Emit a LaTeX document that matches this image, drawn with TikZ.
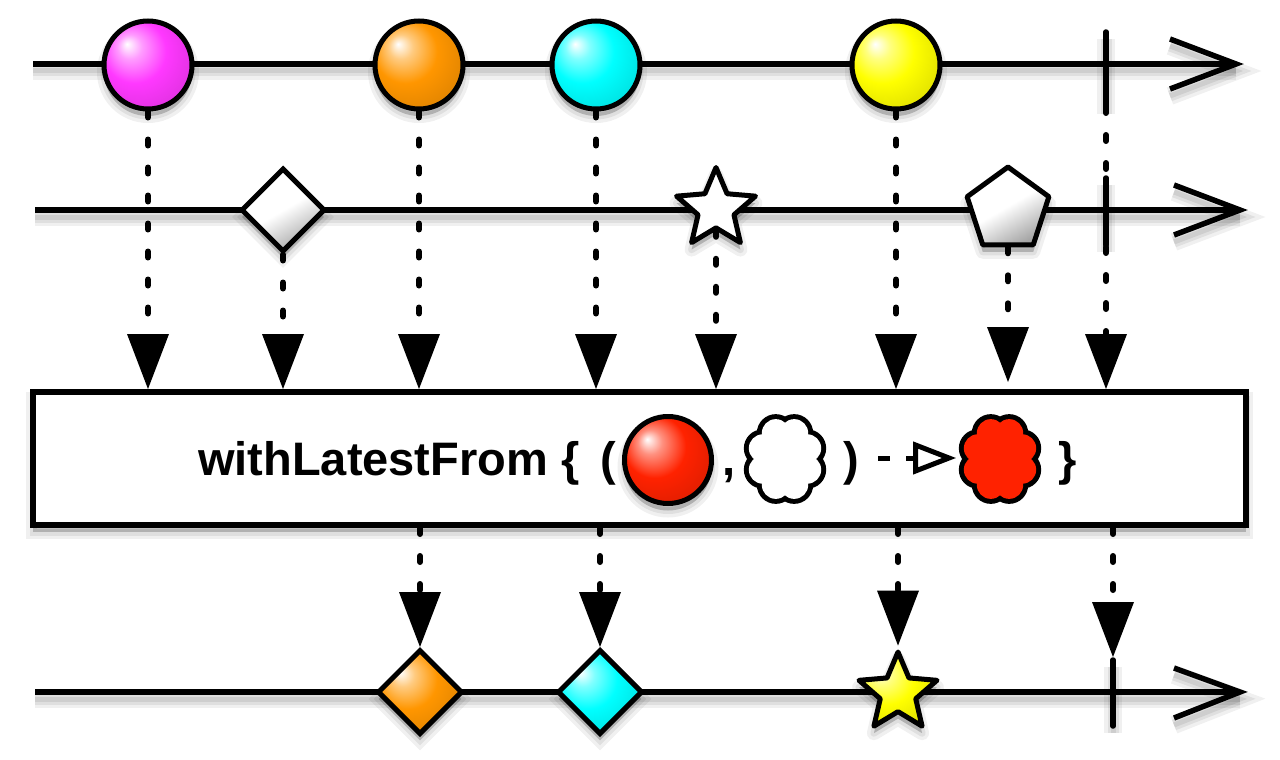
\documentclass[tikz,border=0pt]{standalone}
\usepackage{fontspec}
\setmainfont{Liberation Sans}
\usetikzlibrary{arrows.meta,shapes.geometric}
\definecolor{cmag}{RGB}{255,56,255}
\definecolor{corange}{RGB}{255,150,0}
\definecolor{ccyan}{RGB}{0,255,255}
\definecolor{cyellow}{RGB}{255,255,0}
\definecolor{cred}{RGB}{255,34,0}
\newcommand\mkballshading[1]{%
  \pgfdeclareradialshading{b#1}{\pgfpoint{-12bp}{12bp}}{%
    color(0bp)=(white); color(7bp)=(#1!50!white); color(18bp)=(#1);
    color(30bp)=(#1!90!black); color(42bp)=(#1!72!black); color(50bp)=(#1!55!black)}}
\mkballshading{cmag}
\mkballshading{corange}
\mkballshading{ccyan}
\mkballshading{cyellow}
\mkballshading{cred}
\pgfdeclarelayer{background}
\pgfsetlayers{background,main}
\begin{document}
\begin{tikzpicture}[x=1pt,y=-1pt,
  lw/.style={line width=5pt},
  lineshadow/.style={
    preaction={draw=black,draw opacity=0.06,line width=18pt,transform canvas={yshift=-7pt}},
    preaction={draw=black,draw opacity=0.07,line width=11pt,transform canvas={yshift=-7pt}},
    preaction={draw=black,draw opacity=0.08,line width=5pt,transform canvas={yshift=-7pt}}},
  nodeshadow/.style={
    preaction={fill=black,draw=black,opacity=0.06,line width=14pt,transform canvas={yshift=-7pt}},
    preaction={fill=black,draw=black,opacity=0.07,line width=7pt,transform canvas={yshift=-7pt}},
    preaction={fill=black,opacity=0.09,transform canvas={yshift=-7pt}}},
  timeline/.style={line width=5.5pt,line cap=butt,lineshadow},
  arrowhd/.style={line width=5.5pt,line cap=butt,line join=miter,lineshadow},
  tickmark/.style={line width=5.5pt,line cap=round,lineshadow},
  ballnode/.style={circle,draw,line width=5pt,inner sep=0pt,minimum size=88pt,nodeshadow},
  shaded/.style={shade,shading=#1},
  wshade/.style={top color=white,bottom color=black!35,middle color=white,shading angle=30},
  dashc/.style={line width=6pt,line cap=round,dash pattern=on 6pt off 22pt,
    -{Triangle[width=42pt,length=55pt,line width=0pt]}},
  txt/.style={anchor=base west,inner sep=0pt,font=\bfseries\fontsize{47pt}{56pt}\selectfont}
]
\useasboundingbox (0,0) rectangle (1280,760);

% ---- row 1
\node[ballnode,shaded=bcmag] (m1) at (148,65) {};
\node[ballnode,shaded=bcorange] (m2) at (419,65) {};
\node[ballnode,shaded=bccyan] (m3) at (596,65) {};
\node[ballnode,shaded=bcyellow] (m4) at (896,65) {};
\coordinate (k1t) at (1106,32);
\coordinate (k1b) at (1106,107);
\coordinate (l1s) at (33,64);
\coordinate (l1e) at (1236,64);
\coordinate (a1u) at (1170,39);
\coordinate (a1d) at (1170,89);

% ---- row 2
\node[diamond,draw,lw,inner sep=0pt,minimum width=84pt,minimum height=84pt,wshade,nodeshadow] (s1) at (283,210) {};
\node[star,star points=5,star point ratio=2.2,draw,lw,line join=round,inner sep=0pt,minimum size=83pt,fill=white,nodeshadow] (s2) at (716,209) {};
\node[regular polygon,regular polygon sides=5,draw,lw,line join=round,inner sep=0pt,minimum size=86pt,wshade,nodeshadow] (s3) at (1008,210) {};
\coordinate (k2t) at (1106,178);
\coordinate (k2b) at (1106,245);
\coordinate (l2s) at (35,210);
\coordinate (l2e) at (1240,210);
\coordinate (a2u) at (1174,185);
\coordinate (a2d) at (1174,235);

% ---- operator box
\node[draw,line width=6pt,fill=white,inner sep=0pt,minimum width=1213pt,minimum height=133pt,nodeshadow] (box) at (639.5,458.5) {};
\node[txt] (t1) at (198,475) {withLatestFrom \{};
\node[txt] (t2) at (600,475) {(};
\node[ballnode,shaded=bcred,minimum size=87pt] (rb) at (668,460) {};
\node[txt] (t3) at (722,475) {,};
\coordinate (c1) at (785,459);
\coordinate (c2) at (1000,459);
\foreach \cc/\fc in {c1/white,c2/cred}{
  \begin{scope}[shift={(\cc)}]
    \foreach \a in {22.5,67.5,...,337.5}
      \fill[black] (\a:24pt and 28pt) circle (19pt);
    \foreach \a in {22.5,67.5,...,337.5}
      \fill[\fc] (\a:24pt and 28pt) circle (14pt);
    \fill[\fc] (0,0) ellipse (23pt and 27pt);
  \end{scope}
}
\node[txt] (t4) at (843,475) {)};
\node[txt] (t5) at (1058,475) {\}};
\coordinate (da) at (878,458);
\coordinate (db) at (913,458);
\draw[lw,line cap=butt,dash pattern=on 12pt off 16pt] (da) -- (db);
\draw[lw,line join=miter] (915.5,445) -- (949,458) -- (915.5,471) -- cycle;

% ---- row 3
\node[diamond,draw,lw,inner sep=0pt,minimum width=85pt,minimum height=85pt,shaded=bcorange,nodeshadow] (o1) at (420,692) {};
\node[diamond,draw,lw,inner sep=0pt,minimum width=85pt,minimum height=85pt,shaded=bccyan,nodeshadow] (o2) at (600,692) {};
\node[star,star points=5,star point ratio=2.2,draw,lw,line join=round,inner sep=0pt,minimum size=82pt,shaded=bcyellow,nodeshadow] (o3) at (898,693) {};
\coordinate (k3t) at (1113,660);
\coordinate (k3b) at (1113,726);
\coordinate (l3s) at (35,692);
\coordinate (l3e) at (1240,692);
\coordinate (a3u) at (1174,668);
\coordinate (a3d) at (1174,718);

\begin{pgfonlayer}{background}
  % timelines
  \draw[timeline] (l1s) -- (l1e);
  \draw[arrowhd] (a1u) -- (l1e) -- (a1d);
  \draw[tickmark] (k1t) -- (k1b);
  \draw[timeline] (l2s) -- (l2e);
  \draw[arrowhd] (a2u) -- (l2e) -- (a2d);
  \draw[tickmark] (k2t) -- (k2b);
  \draw[timeline] (l3s) -- (l3e);
  \draw[arrowhd] (a3u) -- (l3e) -- (a3d);
  \draw[tickmark] (k3t) -- (k3b);
  % connectors into the operator
  \draw[dashc] (m1.south) -- (m1.south |- box.north);
  \draw[dashc] (s1.south) -- (s1.south |- box.north);
  \draw[dashc] (m2.south) -- (m2.south |- box.north);
  \draw[dashc] (m3.south) -- (m3.south |- box.north);
  \draw[dashc] (s2.south) -- (s2.south |- box.north);
  \draw[dashc] (m4.south) -- (m4.south |- box.north);
  \draw[dashc,shorten >=7pt] (s3.south) -- (s3.south |- box.north);
  \draw[dashc] (k1b) -- (k1b |- box.north);
  % connectors out of the operator
  \draw[dashc] (box.south -| o1.north) -- (o1.north);
  \draw[dashc] (box.south -| o2.north) -- (o2.north);
  \draw[dashc] (box.south -| o3.north) -- (o3.north);
  \draw[dashc,shorten >=3pt] (box.south -| k3t) -- (k3t);
\end{pgfonlayer}
\end{tikzpicture}
\end{document}
